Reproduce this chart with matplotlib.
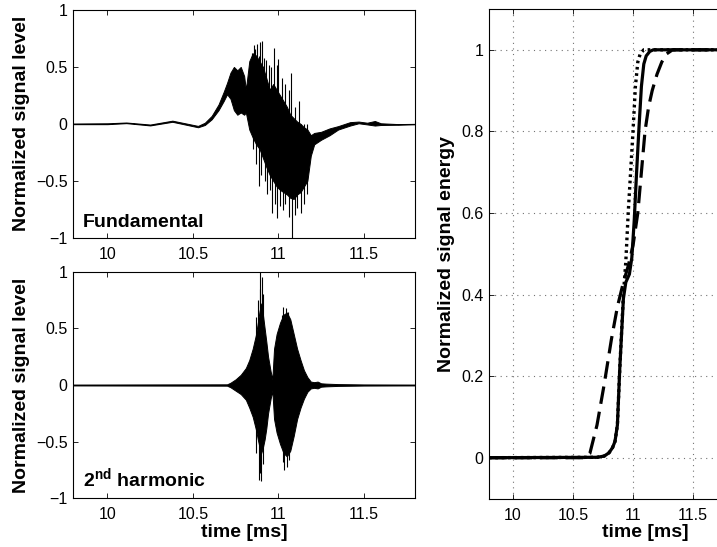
import matplotlib
matplotlib.use('Agg')
import matplotlib.pyplot as plt

plt.rcParams['font.family'] = ['Liberation Sans', 'DejaVu Sans']
plt.rcParams['mathtext.fontset'] = 'custom'
plt.rcParams['mathtext.rm'] = 'Liberation Sans'
plt.rcParams['mathtext.bf'] = 'Liberation Sans:bold'

# --- Fundamental: envelope of the dense waveform ---
fund_t = [9.80, 10.00, 10.11, 10.25, 10.38, 10.53, 10.57, 10.61, 10.65, 10.68,
          10.70, 10.72, 10.74, 10.76, 10.78, 10.80, 10.81, 10.83, 10.85, 10.87,
          10.89, 10.91, 10.93, 10.95, 10.97, 10.99, 11.01, 11.03, 11.05, 11.07,
          11.09, 11.11, 11.13, 11.15, 11.17, 11.19, 11.21, 11.25, 11.30, 11.35,
          11.42, 11.47, 11.52, 11.565, 11.60, 11.70, 11.80]
fund_hi = [0.003, 0.005, 0.012, -0.006, 0.028, -0.018, 0.01, 0.07, 0.17, 0.28,
           0.36, 0.45, 0.50, 0.47, 0.50, 0.42, 0.30, 0.55, 0.62, 0.60,
           0.55, 0.50, 0.40, 0.30, 0.35, 0.30, 0.25, 0.20, 0.15, 0.08,
           0.05, 0.02, 0.0, -0.03, -0.05, -0.10, -0.08, -0.07, -0.04, -0.02,
           0.015, 0.02, 0.01, 0.025, 0.005, -0.002, 0.0]
fund_lo = [-0.003, -0.003, 0.006, -0.014, 0.018, -0.03, -0.01, 0.04, 0.12, 0.20,
           0.26, 0.22, 0.12, 0.08, 0.10, 0.08, 0.10, -0.05, -0.12, -0.18,
           -0.22, -0.30, -0.38, -0.45, -0.50, -0.55, -0.58, -0.60, -0.62, -0.65,
           -0.66, -0.62, -0.60, -0.55, -0.50, -0.28, -0.18, -0.14, -0.10, -0.05,
           -0.015, 0.005, -0.005, -0.015, -0.01, -0.008, -0.004]
fund_spk_t = [10.845, 10.855, 10.865, 10.875, 10.885, 10.895, 10.905, 10.915, 10.93, 10.945,
              10.96, 10.975, 10.99, 11.00, 11.02, 11.04, 11.06, 11.075, 11.10, 11.12,
              10.85, 10.87, 10.885, 10.90, 10.92, 10.935, 10.95, 10.965, 10.98, 10.99,
              11.01, 11.025, 11.04, 11.06, 11.08, 11.095, 11.11, 11.13, 11.15, 11.165]
fund_spk_v = [0.62, 0.69, 0.66, 0.70, 0.60, 0.72, 0.73, 0.58, 0.56, 0.52,
              0.50, 0.67, 0.52, 0.57, 0.40, 0.35, 0.30, 0.45, 0.15, 0.20,
              -0.22, -0.35, -0.55, -0.45, -0.50, -0.62, -0.58, -0.78, -0.70, -0.83,
              -0.72, -0.76, -0.70, -0.82, -1.00, -0.80, -0.74, -0.78, -0.70, -0.62]

# --- 2nd harmonic ---
harm_t = [9.80, 10.70, 10.72, 10.75, 10.78, 10.81, 10.83, 10.85, 10.87, 10.88,
          10.89, 10.90, 10.91, 10.92, 10.93, 10.94, 10.955, 10.965, 10.975, 10.99,
          11.01, 11.03, 11.05, 11.07, 11.09, 11.11, 11.13, 11.15, 11.17, 11.19,
          11.21, 11.23, 11.25, 11.28, 11.35, 11.50, 11.80]
harm_hi = [0.004, 0.006, 0.02, 0.05, 0.09, 0.15, 0.22, 0.32, 0.45, 0.55,
           0.65, 0.72, 0.62, 0.50, 0.38, 0.25, 0.12, 0.05, 0.32, 0.45,
           0.55, 0.62, 0.64, 0.58, 0.45, 0.32, 0.22, 0.13, 0.07, 0.03,
           0.025, 0.03, 0.015, 0.012, 0.008, 0.005, 0.004]
harm_lo = [-0.004, -0.006, -0.02, -0.05, -0.08, -0.13, -0.20, -0.28, -0.40, -0.48,
           -0.55, -0.60, -0.55, -0.48, -0.38, -0.25, -0.12, -0.05, -0.30, -0.42,
           -0.52, -0.60, -0.63, -0.58, -0.45, -0.30, -0.20, -0.12, -0.06, -0.03,
           -0.025, -0.03, -0.015, -0.012, -0.008, -0.005, -0.004]
harm_spk_t = [10.87, 10.88, 10.89, 10.895, 10.905, 10.91, 11.02, 11.03, 11.045, 11.055,
              10.87, 10.885, 10.893, 10.90, 10.91, 11.025, 11.035, 11.05, 11.065]
harm_spk_v = [0.60, 0.75, 0.85, 1.00, 0.95, 0.80, 0.62, 0.69, 0.68, 0.64,
              -0.60, -0.84, -0.78, -0.85, -0.70, -0.68, -0.75, -0.72, -0.66]

# --- cumulative energy curves ---
sol_t = [9.80, 10.70, 10.76, 10.80, 10.83, 10.85, 10.87, 10.89, 10.92, 10.94,
         10.97, 10.99, 11.01, 11.03, 11.05, 11.07, 11.09, 11.11, 11.14, 11.17, 11.80]
sol_e = [0, 0.001, 0.004, 0.012, 0.025, 0.04, 0.08, 0.22, 0.39, 0.43,
         0.45, 0.49, 0.58, 0.70, 0.81, 0.91, 0.965, 0.985, 0.996, 1.0, 1.0]
dot_t = [9.80, 10.70, 10.76, 10.80, 10.83, 10.85, 10.87, 10.89, 10.92, 10.94,
         10.96, 10.98, 11.00, 11.02, 11.04, 11.06, 11.09, 11.80]
dot_e = [0, 0.001, 0.004, 0.012, 0.025, 0.04, 0.08, 0.22, 0.40, 0.48,
         0.60, 0.70, 0.80, 0.91, 0.97, 0.99, 1.0, 1.0]
dsh_t = [9.80, 10.60, 10.64, 10.70, 10.76, 10.82, 10.87, 10.92, 10.96, 11.00,
         11.04, 11.07, 11.10, 11.13, 11.16, 11.20, 11.24, 11.28, 11.33, 11.80]
dsh_e = [0, 0.0, 0.01, 0.08, 0.18, 0.29, 0.37, 0.43, 0.47, 0.52,
         0.60, 0.70, 0.80, 0.86, 0.90, 0.94, 0.97, 0.99, 1.0, 1.0]

sig_ticks = [-1, -0.5, 0, 0.5, 1]
sig_labels = ['\u22121', '\u22120.5', '0', '0.5', '1']
time_ticks = [10, 10.5, 11, 11.5]
time_labels = ['10', '10.5', '11', '11.5']
en_ticks = [0, 0.2, 0.4, 0.6, 0.8, 1]
en_labels = ['0', '0.2', '0.4', '0.6', '0.8', '1']

W, H = 717, 547
fig = plt.figure(figsize=(W / 100, H / 100), dpi=100)


def add_ax(x0, y0, x1, y1):
    return fig.add_axes([x0 / W, 1 - y1 / H, (x1 - x0) / W, (y1 - y0) / H])


def style(ax):
    ax.tick_params(direction='in', length=3.5, width=0.6, top=True, right=True,
                   labelsize=11.5)
    ax.tick_params(axis='x', pad=6.5)
    ax.tick_params(axis='y', pad=4)
    for s in ax.spines.values():
        s.set_linewidth(0.8)


ax1 = add_ax(73.3, 10, 415, 237.7)
ax2 = add_ax(73.3, 271.7, 415, 498.3)
ax3 = add_ax(489, 9, 801, 498.5)  # right part runs past the figure edge, as in the original

for ax, t, lo, hi, st, sv, name in [
        (ax1, fund_t, fund_lo, fund_hi, fund_spk_t, fund_spk_v, 'Fundamental'),
        (ax2, harm_t, harm_lo, harm_hi, harm_spk_t, harm_spk_v, '2$^{\\mathbf{nd}}$ harmonic')]:
    ax.fill_between(t, lo, hi, facecolor='k', edgecolor='k', lw=0.7)
    ax.vlines(st, 0, sv, color='k', lw=0.8)
    ax.set_xlim(9.8, 11.8)
    ax.set_ylim(-1, 1)
    ax.set_yticks(sig_ticks)
    ax.set_yticklabels(sig_labels)
    ax.set_xticks(time_ticks)
    ax.set_xticklabels(time_labels)
    ax.set_ylabel('Normalized signal level', fontsize=14, fontweight='bold')
    ax.yaxis.set_label_coords(-0.127, 0.5)
    ax.text(0.028, 0.048, name, transform=ax.transAxes, fontsize=14,
            fontweight='bold', va='baseline', ha='left')
    style(ax)

ax2.set_xlabel('time [ms]', fontsize=14, fontweight='bold', labelpad=1)

ax3.grid(True, linestyle=(0, (1, 4)), color='0.45', lw=0.8)
ax3.set_axisbelow(True)
ax3.plot(dsh_t, dsh_e, color='k', lw=2.3, dashes=(5.5, 2.5))
ax3.plot(dot_t, dot_e, color='k', lw=2.4, linestyle=(0, (0.8, 1.1)))
ax3.plot(sol_t, sol_e, color='k', lw=2.3)
ax3.set_xlim(9.8, 12.4)
ax3.set_ylim(-0.1, 1.1)
ax3.set_xticks(time_ticks)
ax3.set_xticklabels(time_labels)
ax3.set_yticks(en_ticks)
ax3.set_yticklabels(en_labels)
ax3.set_xlabel('time [ms]', fontsize=14, fontweight='bold', labelpad=1)
ax3.set_ylabel('Normalized signal energy', fontsize=14, fontweight='bold')
ax3.yaxis.set_label_coords(-34 / 312, 0.5)
style(ax3)

fig.savefig('out.png', dpi=100)
